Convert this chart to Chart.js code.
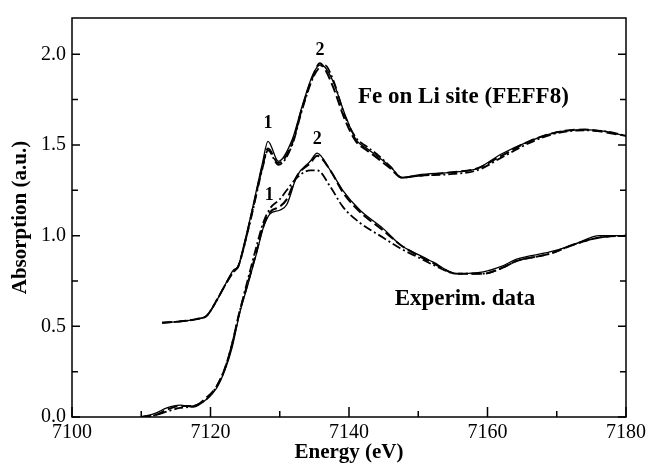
<!DOCTYPE html>
<html>
<head>
<meta charset="utf-8">
<script src="https://cdn.jsdelivr.net/npm/chart.js@4.4.1/dist/chart.umd.min.js"></script>
<style>
  html, body { margin: 0; padding: 0; background: #fff; }
  #wrap { width: 650px; height: 465px; }
</style>
</head>
<body>
<div id="wrap"><canvas id="xanesChart" width="650" height="465"></canvas></div>
<script>
// Energies (eV) for the upper FEFF8 curves and the lower experimental set
const upperEnergy = [7113, 7115, 7118, 7119.5, 7121, 7122, 7123.3, 7124, 7124.7, 7126, 7127.5, 7128.3, 7129.8, 7131.8, 7133.2, 7134.8, 7135.8, 7136.5, 7137.7, 7139.4, 7141, 7142.6, 7144, 7146, 7147.6, 7150, 7155, 7158.5, 7162, 7166, 7170, 7174, 7177, 7180];
const upperSolid   = [0.52, 0.525, 0.54, 0.56, 0.65, 0.72, 0.81, 0.83, 0.93, 1.14, 1.40, 1.52, 1.41, 1.53, 1.71, 1.89, 1.94, 1.93, 1.85, 1.67, 1.53, 1.48, 1.44, 1.38, 1.32, 1.335, 1.35, 1.37, 1.45, 1.52, 1.57, 1.585, 1.575, 1.55];
const upperDashed  = [0.52, 0.525, 0.54, 0.56, 0.65, 0.72, 0.80, 0.83, 0.92, 1.13, 1.38, 1.48, 1.40, 1.51, 1.70, 1.88, 1.95, 1.92, 1.82, 1.64, 1.52, 1.47, 1.43, 1.37, 1.32, 1.33, 1.35, 1.37, 1.44, 1.52, 1.57, 1.585, 1.57, 1.55];
const upperDashDot = [0.52, 0.525, 0.54, 0.56, 0.65, 0.72, 0.80, 0.83, 0.92, 1.12, 1.37, 1.47, 1.39, 1.50, 1.69, 1.87, 1.93, 1.94, 1.86, 1.66, 1.54, 1.49, 1.45, 1.38, 1.32, 1.33, 1.34, 1.36, 1.43, 1.51, 1.565, 1.58, 1.575, 1.55];

const lowerEnergy = [7110, 7112, 7113.7, 7115.6, 7117.5, 7119.5, 7120.9, 7122.1, 7123.1, 7124.2, 7125.4, 7126.7, 7127.6, 7128.6, 7130, 7131, 7132.5, 7134.4, 7135.4, 7137.3, 7139.1, 7141.6, 7144.9, 7147.4, 7150, 7152.1, 7155.6, 7159.4, 7162, 7164.2, 7169, 7172.4, 7176.2, 7180];
const lowerSolid   = [0, 0.02, 0.05, 0.065, 0.055, 0.1, 0.16, 0.26, 0.38, 0.57, 0.73, 0.91, 1.04, 1.12, 1.14, 1.17, 1.33, 1.41, 1.455, 1.36, 1.25, 1.14, 1.04, 0.95, 0.895, 0.855, 0.79, 0.80, 0.83, 0.87, 0.91, 0.95, 1.0, 1.0];
const lowerDashed  = [0, 0.01, 0.04, 0.06, 0.06, 0.11, 0.17, 0.27, 0.40, 0.58, 0.74, 0.92, 1.05, 1.13, 1.16, 1.20, 1.33, 1.40, 1.44, 1.36, 1.24, 1.13, 1.03, 0.95, 0.89, 0.85, 0.79, 0.79, 0.82, 0.86, 0.90, 0.95, 0.99, 1.0];
const lowerDashDot = [0, 0.01, 0.03, 0.05, 0.06, 0.10, 0.17, 0.27, 0.40, 0.58, 0.76, 0.95, 1.07, 1.15, 1.20, 1.25, 1.32, 1.36, 1.36, 1.27, 1.16, 1.07, 0.99, 0.93, 0.88, 0.84, 0.79, 0.79, 0.82, 0.86, 0.90, 0.95, 0.99, 1.0];

// Tick values
const xMajor = [7100, 7120, 7140, 7160, 7180];
const xMinor = [7110, 7130, 7150, 7170];
const yMajor = [0, 0.5, 1.0, 1.5, 2.0];
const yMinor = [0.25, 0.75, 1.25, 1.75];

// Text annotations placed in data coordinates
const notes = [
  { text: 'Fe on Li site (FEFF8)', x: 7141.3, y: 1.766, size: 23, align: 'left' },
  { text: 'Experim. data', x: 7146.6, y: 0.65, size: 23, align: 'left' },
  { text: '1', x: 7128.3, y: 1.62, size: 18, align: 'center' },
  { text: '2', x: 7135.8, y: 2.02, size: 18, align: 'center' },
  { text: '2', x: 7135.4, y: 1.53, size: 18, align: 'center' },
  { text: '1', x: 7128.5, y: 1.22, size: 18, align: 'center' }
];

const toPoints = (xs, ys) => xs.map((e, i) => ({ x: e, y: ys[i] }));

function curve(xs, ys, dash, width) {
  return {
    data: toPoints(xs, ys),
    borderColor: '#000',
    borderWidth: width,
    borderDash: dash,
    showLine: true,
    pointRadius: 0,
    fill: false,
    cubicInterpolationMode: 'monotone'
  };
}

const serif = '"Liberation Serif", "Times New Roman", serif';

// frame, inward ticks and the text notes
const framePlugin = {
  id: 'frame',
  afterDraw(chart) {
    const { ctx, chartArea: { left, right, top, bottom }, scales: { x, y } } = chart;
    ctx.save();
    ctx.strokeStyle = '#000';
    ctx.lineWidth = 1.5;
    ctx.strokeRect(left, top, right - left, bottom - top);
    ctx.beginPath();
    xMajor.concat(xMinor).forEach(v => {
      const px = x.getPixelForValue(v);
      const len = xMajor.includes(v) ? 10 : 6;
      ctx.moveTo(px, bottom);
      ctx.lineTo(px, bottom - len);
    });
    yMajor.concat(yMinor).forEach(v => {
      const py = y.getPixelForValue(v);
      const len = yMajor.includes(v) ? 8 : 6;
      ctx.moveTo(left, py);
      ctx.lineTo(left + len, py);
      ctx.moveTo(right, py);
      ctx.lineTo(right - len, py);
    });
    ctx.stroke();

    ctx.fillStyle = '#000';
    ctx.textBaseline = 'middle';
    notes.forEach(n => {
      ctx.font = `bold ${n.size}px ${serif}`;
      ctx.textAlign = n.align;
      ctx.fillText(n.text, x.getPixelForValue(n.x), y.getPixelForValue(n.y));
    });
    ctx.restore();
  }
};

const ctx = document.getElementById('xanesChart').getContext('2d');
const xanesChart = new Chart(ctx, {
  type: 'scatter',
  data: {
    datasets: [
      curve(upperEnergy, upperSolid, [], 1.3),
      curve(upperEnergy, upperDashed, [10, 4], 2),
      curve(upperEnergy, upperDashDot, [9, 3, 2, 3], 1.8),
      curve(lowerEnergy, lowerSolid, [], 1.3),
      curve(lowerEnergy, lowerDashed, [10, 4], 2),
      curve(lowerEnergy, lowerDashDot, [9, 3, 2, 3], 1.8)
    ]
  },
  options: {
    responsive: false,
    animation: false,
    layout: { padding: { top: 13, right: 24, left: 0, bottom: 0 } },
    plugins: {
      legend: { display: false },
      tooltip: { enabled: false }
    },
    scales: {
      x: {
        type: 'linear',
        min: 7100,
        max: 7180,
        grid: { display: false, drawTicks: false },
        border: { display: false },
        afterBuildTicks: s => { s.ticks = xMajor.map(v => ({ value: v })); },
        afterFit: s => { s.height = 48; },
        ticks: {
          padding: 4,
          color: '#000',
          font: { family: serif, size: 20 },
          maxRotation: 0,
          autoSkip: false,
          callback: v => String(v)
        },
        title: {
          display: true,
          text: 'Energy (eV)',
          color: '#000',
          padding: { top: 3, bottom: 0 },
          font: { family: serif, size: 21, weight: 'bold' }
        }
      },
      y: {
        min: 0,
        max: 2.2,
        grid: { display: false, drawTicks: false },
        border: { display: false },
        afterBuildTicks: s => { s.ticks = yMajor.map(v => ({ value: v })); },
        afterFit: s => { s.width = 72; },
        ticks: {
          padding: 6,
          color: '#000',
          font: { family: serif, size: 20 },
          callback: v => Number(v).toFixed(1)
        },
        title: {
          display: true,
          text: 'Absorption (a.u.)',
          color: '#000',
          padding: { top: 8, bottom: 0 },
          font: { family: serif, size: 21, weight: 'bold' }
        }
      }
    }
  },
  plugins: [framePlugin]
});
</script>
</body>
</html>
